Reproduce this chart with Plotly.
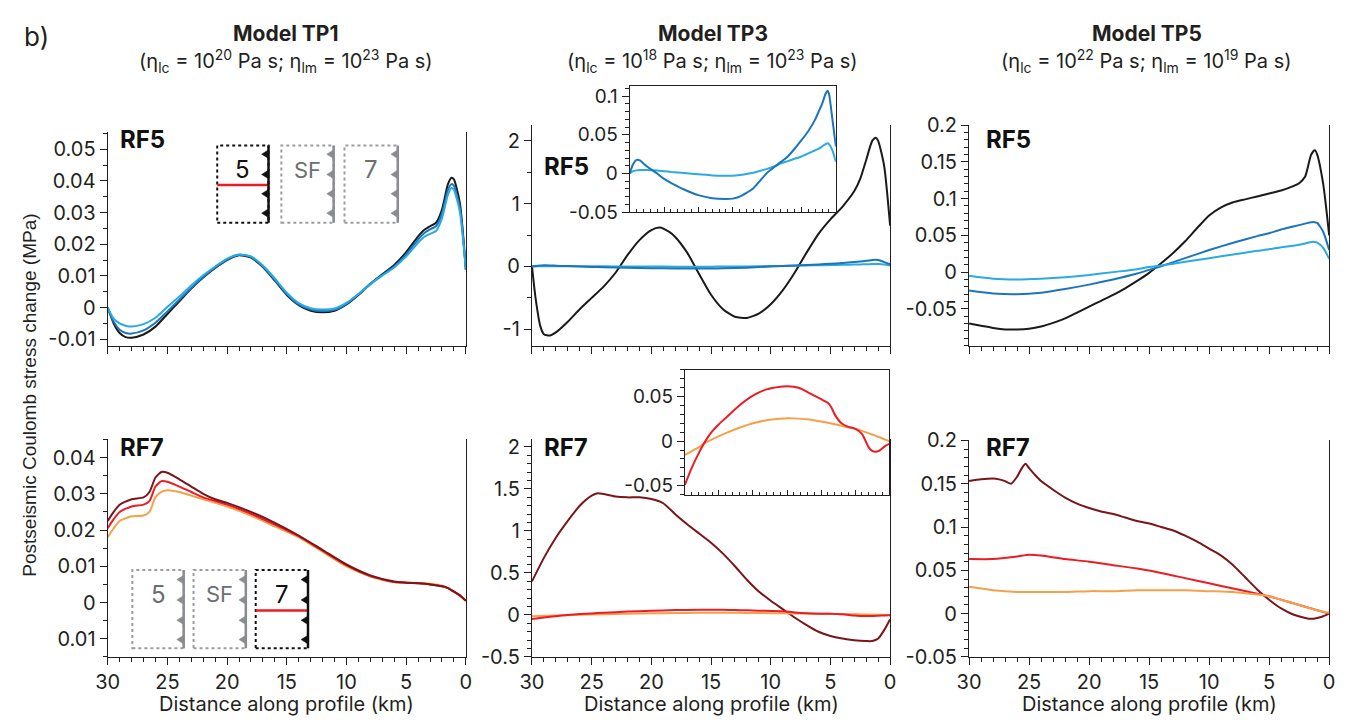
import plotly.graph_objects as go

W, H = 1349, 727
FONT = "Inter, Liberation Sans, Arial, Helvetica, sans-serif"
FONT_Y = "Liberation Sans, Arial, Helvetica, sans-serif"
INK = "#231f20"

# ---------------- colours ----------------
C_BLACK = "#1a1a1a"
C_BLUE = "#1b75bc"
C_LIGHT = "#29abe2"
C_DARKRED = "#7a1519"
C_RED = "#ec1c24"
C_ORANGE = "#f7a04a"

# ---------------- data ----------------
# Model TP1, RF5
tp1_rf5_km = [30, 29.5, 29, 28.5, 28, 27, 26, 25, 24, 23, 22, 21, 20, 19, 18, 17, 16, 15, 14, 13,
              12, 11, 10, 9, 8, 7, 6, 5, 4, 3.5, 3, 2.5, 2, 1.5, 1.2, 1, 0.5, 0]
tp1_rf5_black = [0, -0.005, -0.008, -0.0093, -0.0095, -0.0085, -0.006, -0.002, 0.002, 0.006, 0.0095,
                 0.0125, 0.015, 0.0165, 0.0158, 0.0128, 0.0085, 0.004, 0.0008, -0.001, -0.0015, -0.001,
                 0.001, 0.004, 0.0075, 0.0105, 0.0135, 0.0175, 0.0225, 0.0245, 0.0257, 0.0268, 0.031,
                 0.039, 0.041, 0.0405, 0.033, 0.012]
tp1_rf5_blue = [0, -0.0045, -0.007, -0.008, -0.0082, -0.0072, -0.0048, -0.0012, 0.0025, 0.0062, 0.0097,
                0.0127, 0.0152, 0.0167, 0.016, 0.013, 0.0088, 0.0043, 0.001, -0.0006, -0.0011, -0.0007,
                0.0012, 0.0042, 0.0075, 0.0103, 0.013, 0.0168, 0.0215, 0.0235, 0.0247, 0.0257, 0.0297,
                0.0372, 0.039, 0.0385, 0.0315, 0.012]
tp1_rf5_light = [0, -0.0035, -0.005, -0.0057, -0.006, -0.0052, -0.0032, 0.0002, 0.0035, 0.007, 0.0102,
                 0.013, 0.0155, 0.0168, 0.0162, 0.0133, 0.0092, 0.0047, 0.0014, -0.0002, -0.0006, -0.0003,
                 0.0015, 0.0043, 0.0074, 0.0101, 0.0127, 0.0162, 0.0205, 0.0223, 0.0233, 0.0242, 0.0282,
                 0.0357, 0.0378, 0.0372, 0.0302, 0.012]

# Model TP1, RF7
tp1_rf7_km = [30, 29.5, 29, 28, 27, 26.5, 26, 25.5, 25, 24, 23, 22, 21, 20, 18, 16, 14, 12, 10, 8,
              6, 5, 4, 3, 2, 1.5, 1, 0.5, 0]
tp1_rf7_darkred = [0.0225, 0.025, 0.027, 0.0285, 0.029, 0.0305, 0.0345, 0.036, 0.0358, 0.034,
                   0.032, 0.030, 0.0285, 0.0275, 0.025, 0.022, 0.0185, 0.0145, 0.0105, 0.0075,
                   0.0058, 0.0055, 0.0053, 0.005, 0.0045, 0.004, 0.003, 0.002, 0.0005]
tp1_rf7_red = [0.0205, 0.023, 0.025, 0.0265, 0.027, 0.028, 0.032, 0.0335, 0.0333, 0.032,
               0.0305, 0.029, 0.028, 0.027, 0.0245, 0.0215, 0.0183, 0.0143, 0.0103, 0.0073,
               0.0057, 0.0055, 0.0053, 0.005, 0.0045, 0.004, 0.003, 0.002, 0.0005]
tp1_rf7_orange = [0.018, 0.0205, 0.0225, 0.0238, 0.024, 0.025, 0.029, 0.0305, 0.031, 0.0305,
                  0.0295, 0.0285, 0.0275, 0.0265, 0.024, 0.021, 0.018, 0.014, 0.010, 0.0072,
                  0.0057, 0.0055, 0.0054, 0.0052, 0.0047, 0.004, 0.003, 0.002, 0.0005]

# Model TP3, RF5
tp3_rf5_km = [30, 29.7, 29.3, 29, 28.5, 28, 27, 26, 25, 24, 23, 22, 21, 20, 19.3, 18.5, 18, 17, 16,
              15, 14, 13, 12, 11, 10, 9, 8, 7, 6, 5, 4, 3, 2.5, 2, 1.5, 1.2, 1, 0.5, 0]
tp3_rf5_black = [0, -0.5, -0.95, -1.08, -1.1, -1.05, -0.88, -0.68, -0.5, -0.32, -0.1, 0.18, 0.42,
                 0.58, 0.62, 0.55, 0.47, 0.22, -0.12, -0.45, -0.68, -0.8, -0.82, -0.75, -0.6, -0.38,
                 -0.1, 0.22, 0.52, 0.75, 0.95, 1.2, 1.4, 1.7, 2.0, 2.05, 2.0, 1.6, 0.65]
tp3_rf5_blue_km = [30, 29.5, 29, 28.5, 28, 27, 26, 25, 24, 22, 20, 18, 16, 15, 14, 12, 10, 9, 8, 7,
                   6, 5, 4, 3, 2.5, 2, 1.5, 1.2, 1, 0.5, 0]
tp3_rf5_blue = [0, 0.012, 0.0175, 0.017, 0.013, 0.006, 0.0, -0.007, -0.012, -0.021, -0.028, -0.032,
                -0.033, -0.0325, -0.03, -0.019, 0.001, 0.008, 0.015, 0.022, 0.032, 0.043, 0.055, 0.07,
                0.08, 0.09, 0.103, 0.107, 0.103, 0.07, 0.035]
tp3_rf5_light = [0, 0.003, 0.004, 0.0045, 0.0045, 0.0042, 0.004, 0.003, 0.002, 0.0005, -0.001, -0.0025,
                 -0.003, -0.003, -0.002, 0.001, 0.006, 0.009, 0.013, 0.016, 0.019, 0.022, 0.026, 0.03,
                 0.032, 0.035, 0.038, 0.039, 0.038, 0.03, 0.015]

# Model TP3, RF7
tp3_rf7_km = [30, 29, 28, 27, 26, 25, 24.5, 24, 23, 22, 21, 20, 19, 18, 17, 16, 15, 14, 13, 12, 11,
              10, 9, 8, 7, 6, 5, 4, 3, 2, 1.5, 1, 0.5, 0]
tp3_rf7_darkred = [0.4, 0.68, 0.92, 1.12, 1.3, 1.42, 1.45, 1.44, 1.41, 1.4, 1.4, 1.38, 1.33, 1.2,
                   1.08, 0.97, 0.86, 0.73, 0.58, 0.42, 0.28, 0.17, 0.07, -0.03, -0.12, -0.2, -0.25,
                   -0.28, -0.3, -0.31, -0.31, -0.28, -0.18, -0.05]
tp3_rf7_red_km = [30, 29, 28, 27, 26, 25, 24, 22, 20, 18, 16, 15, 14, 13, 12, 11, 10, 9, 8.5, 8, 7,
                  6, 5, 4, 3, 2.5, 2, 1.5, 1, 0.5, 0]
tp3_rf7_red = [-0.049, -0.03, -0.014, 0.0, 0.011, 0.019, 0.026, 0.04, 0.051, 0.058, 0.061, 0.0615,
               0.061, 0.059, 0.055, 0.051, 0.047, 0.043, 0.038, 0.03, 0.02, 0.016, 0.014, 0.008,
               -0.007, -0.011, -0.012, -0.011, -0.008, -0.005, -0.003]
tp3_rf7_orange_km = [30, 28, 27, 26, 24, 22, 20, 18, 16, 15, 14, 12, 10, 8, 6, 4.6, 4, 2, 0]
tp3_rf7_orange = [-0.0155, -0.007, -0.002, 0.002, 0.009, 0.015, 0.02, 0.0235, 0.0252, 0.0256, 0.0255,
                  0.0245, 0.022, 0.019, 0.0155, 0.013, 0.0115, 0.006, 0.0]

# Model TP5, RF5
tp5_rf5_km = [30, 29, 28, 27, 26, 25, 24, 23, 22, 21, 20, 19, 18, 17, 16, 15, 14, 13, 12, 11, 10, 9,
              8, 7, 6, 5, 4, 3, 2.5, 2, 1.5, 1.2, 1, 0.5, 0]
tp5_rf5_black = [-0.07, -0.073, -0.076, -0.078, -0.078, -0.077, -0.074, -0.069, -0.063, -0.055,
                 -0.047, -0.039, -0.031, -0.022, -0.012, -0.001, 0.012, 0.026, 0.042, 0.06, 0.077,
                 0.088, 0.095, 0.099, 0.103, 0.107, 0.111, 0.117, 0.121, 0.13, 0.16, 0.166, 0.16,
                 0.12, 0.05]
tp5_rf5_blue_km = [30, 28, 26, 24, 22, 20, 18, 16, 15, 14, 12, 10, 8, 6, 5, 4, 3, 2, 1.5, 1.2, 1, 0.5, 0]
tp5_rf5_blue = [-0.025, -0.029, -0.03, -0.028, -0.023, -0.017, -0.01, -0.002, 0.003, 0.008, 0.019,
                0.03, 0.04, 0.049, 0.053, 0.058, 0.062, 0.066, 0.068, 0.068, 0.067, 0.055, 0.03]
tp5_rf5_light = [-0.005, -0.009, -0.01, -0.009, -0.007, -0.004, 0.0, 0.004, 0.007, 0.009, 0.014,
                 0.019, 0.024, 0.029, 0.031, 0.034, 0.036, 0.039, 0.041, 0.041, 0.04, 0.033, 0.018]

# Model TP5, RF7
tp5_rf7_km = [30, 29, 28, 27.5, 27, 26.5, 26, 25.6, 25.3, 25, 24.5, 24, 23, 22, 21, 20, 19, 18, 17,
              16, 15, 14, 13, 12, 11, 10, 9, 8, 7, 6, 5, 4, 3, 2, 1.5, 1, 0.5, 0]
tp5_rf7_darkred = [0.153, 0.155, 0.156, 0.155, 0.153, 0.15, 0.158, 0.168, 0.173, 0.168, 0.16, 0.153,
                   0.143, 0.134, 0.127, 0.122, 0.118, 0.115, 0.111, 0.107, 0.104, 0.1, 0.096, 0.09,
                   0.083, 0.075, 0.067, 0.056, 0.042, 0.028, 0.016, 0.006, -0.001, -0.005, -0.006,
                   -0.005, -0.003, 0.0]
tp5_rf7_other_km = [30, 28, 26, 25, 24, 22, 20, 18, 16, 14, 12, 10, 8, 6, 5, 4, 3, 2, 1, 0]
tp5_rf7_red = [0.063, 0.063, 0.066, 0.068, 0.067, 0.063, 0.06, 0.056, 0.052, 0.047, 0.041, 0.035,
               0.029, 0.023, 0.02, 0.016, 0.012, 0.008, 0.004, 0.0]
tp5_rf7_orange = [0.031, 0.027, 0.025, 0.025, 0.025, 0.025, 0.026, 0.026, 0.027, 0.027, 0.027, 0.026,
                  0.025, 0.022, 0.02, 0.016, 0.012, 0.008, 0.004, 0.001]

# ---------------- ticks ----------------
x_ticks = [30, 25, 20, 15, 10, 5, 0]
x_ticktext = ["30", "25", "20", "15", "10", "5", "0"]
tp1_rf5_yticks = [-0.01, 0, 0.01, 0.02, 0.03, 0.04, 0.05]
tp1_rf5_ytext = ["-0.01", "0", "0.01", "0.02", "0.03", "0.04", "0.05"]
tp1_rf7_yticks = [-0.01, 0, 0.01, 0.02, 0.03, 0.04]
tp1_rf7_ytext = ["0.01", "0", "0.01", "0.02", "0.03", "0.04"]
tp3_rf5_yticks = [-1, 0, 1, 2]
tp3_rf5_ytext = ["-1", "0", "1", "2"]
tp3_rf7_yticks = [-0.5, 0, 0.5, 1, 1.5, 2]
tp3_rf7_ytext = ["-0.5", "0", "0.5", "1", "1.5", "2"]
tp5_rf5_yticks = [-0.05, 0, 0.05, 0.1, 0.15, 0.2]
tp5_rf5_ytext = ["-0.05", "0", "0.05", "0.1", "0.15", "0.2"]
tp5_rf7_yticks = [-0.05, 0, 0.05, 0.1, 0.15, 0.2]
tp5_rf7_ytext = ["-0.05", "0", "0.05", "0.1", "0.15", "0.2"]
inset5_yticks = [-0.05, 0, 0.05, 0.1]
inset5_ytext = ["-0.05", "0", "0.05", "0.1"]
inset7_yticks = [-0.05, 0, 0.05]
inset7_ytext = ["-0.05", "0", "0.05"]

titles = ["Model TP1", "Model TP3", "Model TP5"]
subtitles = [
    "(η<sub>lc</sub> = 10<sup>20</sup> Pa s; η<sub>lm</sub> = 10<sup>23</sup> Pa s)",
    "(η<sub>lc</sub> = 10<sup>18</sup> Pa s; η<sub>lm</sub> = 10<sup>23</sup> Pa s)",
    "(η<sub>lc</sub> = 10<sup>22</sup> Pa s; η<sub>lm</sub> = 10<sup>19</sup> Pa s)",
]


def X(px):
    return px / W


def Y(py):
    return 1 - py / H


fig = go.Figure()


def add(xs, ys, color, ax, width=2):
    fig.add_trace(go.Scatter(x=xs, y=ys, mode="lines", xaxis="x" + ax, yaxis="y" + ax,
                             line=dict(color=color, width=width, shape="spline", smoothing=0.6),
                             showlegend=False, hoverinfo="skip"))


# TP1
add(tp1_rf5_km, tp1_rf5_black, C_BLACK, "")
add(tp1_rf5_km, tp1_rf5_blue, C_BLUE, "")
add(tp1_rf5_km, tp1_rf5_light, C_LIGHT, "")
add(tp1_rf7_km, tp1_rf7_orange, C_ORANGE, "4")
add(tp1_rf7_km, tp1_rf7_red, C_RED, "4")
add(tp1_rf7_km, tp1_rf7_darkred, C_DARKRED, "4")
# TP3
add(tp3_rf5_km, tp3_rf5_black, C_BLACK, "2")
add(tp3_rf5_blue_km, tp3_rf5_light, C_LIGHT, "2")
add(tp3_rf5_blue_km, tp3_rf5_blue, C_BLUE, "2")
add(tp3_rf7_km, tp3_rf7_darkred, C_DARKRED, "5")
add(tp3_rf7_orange_km, tp3_rf7_orange, C_ORANGE, "5")
add(tp3_rf7_red_km, tp3_rf7_red, C_RED, "5")
# TP5
add(tp5_rf5_km, tp5_rf5_black, C_BLACK, "3")
add(tp5_rf5_blue_km, tp5_rf5_blue, C_BLUE, "3")
add(tp5_rf5_blue_km, tp5_rf5_light, C_LIGHT, "3")
add(tp5_rf7_km, tp5_rf7_darkred, C_DARKRED, "6")
add(tp5_rf7_other_km, tp5_rf7_red, C_RED, "6")
add(tp5_rf7_other_km, tp5_rf7_orange, C_ORANGE, "6")
# insets (TP3)
add(tp3_rf5_blue_km, tp3_rf5_light, C_LIGHT, "7")
add(tp3_rf5_blue_km, tp3_rf5_blue, C_BLUE, "7")
add(tp3_rf7_orange_km, tp3_rf7_orange, C_ORANGE, "8")
add(tp3_rf7_red_km, tp3_rf7_red, C_RED, "8")

TICKFONT = dict(family=FONT, size=20, color=INK)


def xax(px0, px1, anchor, labels, inset=False):
    d = dict(domain=[X(px0), X(px1)], range=[30, 0], anchor=anchor,
             tickmode="array", tickvals=x_ticks, ticktext=x_ticktext,
             showticklabels=labels, ticks="inside" if inset else "outside",
             ticklen=5 if inset else 7, tickwidth=1, tickcolor=INK,
             showline=True, linecolor=INK, linewidth=1.2, showgrid=False, zeroline=False,
             mirror=inset, tickfont=TICKFONT, fixedrange=True,
             minor=dict(dtick=1, tick0=0, ticks="inside" if inset else "outside",
                        ticklen=3 if inset else 4, tickwidth=1, tickcolor=INK, showgrid=False))
    return d


def yax(py_top, py_bot, rng, anchor, tv, tt, minor_dt, fsize=20):
    return dict(domain=[Y(py_bot), Y(py_top)], range=rng, anchor=anchor,
                tickmode="array", tickvals=tv, ticktext=tt, ticks="outside", ticklen=7,
                tickwidth=1, tickcolor=INK, showline=True, linecolor=INK, linewidth=1.2,
                showgrid=False, zeroline=False, mirror=True, fixedrange=True,
                tickfont=dict(family=FONT, size=fsize, color=INK),
                minor=dict(dtick=minor_dt, tick0=0, ticks="outside", ticklen=4, tickwidth=1,
                           tickcolor=INK, showgrid=False))


cols = [(97, 460), (527, 890), (970, 1335)]

fig.update_layout(
    width=W, height=H, margin=dict(l=0, r=0, t=0, b=0),
    paper_bgcolor="white", plot_bgcolor="white",
    font=dict(family=FONT, color=INK),
    xaxis=xax(*cols[0], "y", False),
    xaxis2=xax(*cols[1], "y2", False),
    xaxis3=xax(*cols[2], "y3", False),
    xaxis4=xax(*cols[0], "y4", True),
    xaxis5=xax(*cols[1], "y5", True),
    xaxis6=xax(*cols[2], "y6", True),
    xaxis7=xax(626, 835, "y7", False, inset=True),
    xaxis8=xax(682, 889, "y8", False, inset=True),
    yaxis=yax(124, 345, [-0.012, 0.0555], "x", tp1_rf5_yticks, tp1_rf5_ytext, 0.005),
    yaxis2=yax(117, 345, [-1.26, 2.25], "x2", tp3_rf5_yticks, tp3_rf5_ytext, 0.5),
    yaxis3=yax(117, 345, [-0.1, 0.2], "x3", tp5_rf5_yticks, tp5_rf5_ytext, 0.01),
    yaxis4=yax(442, 667, [-0.015, 0.045], "x4", tp1_rf7_yticks, tp1_rf7_ytext, 0.005),
    yaxis5=yax(442, 667, [-0.5, 2.09], "x5", tp3_rf7_yticks, tp3_rf7_ytext, 0.1),
    yaxis6=yax(443, 667, [-0.05, 0.2], "x6", tp5_rf7_yticks, tp5_rf7_ytext, 0.01),
    yaxis7=yax(77, 207, [-0.05, 0.1125], "x7", inset5_yticks, inset5_ytext, 0.01, fsize=19),
    yaxis8=yax(370, 500, [-0.061, 0.080], "x8", inset7_yticks, inset7_ytext, 0.01, fsize=19),
)

ann = []


def note(px, py, text, size, color=INK, xanchor="center", angle=0, family=FONT):
    ann.append(dict(x=X(px), y=Y(py), xref="paper", yref="paper", text=text, showarrow=False,
                    xanchor=xanchor, yanchor="middle", textangle=angle,
                    font=dict(family=family, size=size, color=color)))


# panel label
note(10, 25, "b)", 26, xanchor="left")
centers = [278, 710, 1150]
for c, t, s in zip(centers, titles, subtitles):
    note(c, 22, "<b>" + t + "</b>", 21)
    note(c, 51, s, 20)
# RF labels
for (px, py, t) in [(107, 132, "RF5"), (537, 160, "RF5"), (985, 132, "RF5"),
                    (107, 450, "RF7"), (537, 450, "RF7"), (985, 450, "RF7")]:
    note(px, py, "<b>" + t + "</b>", 24, color="#111111", xanchor="left")
# x titles
for (a, b) in cols:
    note((a + b) / 2, 716, "Distance along profile (km)", 20)
# y title
note(18, 396, "Postseismic Coulomb stress change (MPa)", 19, angle=-90, family=FONT_Y)

# ---------------- fault schematics (TP1) ----------------
shapes = []
GRAY_BOX = "#9a9c9f"
GRAY_FAULT = "#8a8c8f"
GRAY_TXT = "#6d6e71"


def schematic(x0, x1, y0, y1, label, active, tri_ys, red_y=None):
    boxc = "#111111" if active else GRAY_BOX
    faultc = "#111111" if active else GRAY_FAULT
    shapes.append(dict(type="rect", xref="paper", yref="paper", x0=X(x0), x1=X(x1), y0=Y(y1), y1=Y(y0),
                       line=dict(color=boxc, width=2, dash="dot"), fillcolor="white", layer="above"))
    if red_y is not None:
        shapes.append(dict(type="line", xref="paper", yref="paper", x0=X(x0), x1=X(x1), y0=Y(red_y),
                           y1=Y(red_y), line=dict(color=C_RED, width=2.5), layer="above"))
    shapes.append(dict(type="line", xref="paper", yref="paper", x0=X(x1), x1=X(x1), y0=Y(y0),
                       y1=Y(y1), line=dict(color=faultc, width=2.5), layer="above"))
    for ty in tri_ys:
        path = "M %f,%f L %f,%f L %f,%f Z" % (X(x1), Y(ty - 4.5), X(x1 - 7), Y(ty), X(x1), Y(ty + 4.5))
        shapes.append(dict(type="path", xref="paper", yref="paper", path=path, fillcolor=faultc,
                           line=dict(color=faultc, width=0.5), layer="above"))
    note((x0 + x1) / 2, y0 + 25, label, 24 if label != "SF" else 22,
         color="#111111" if active else GRAY_TXT)


top_tris = [147, 168, 188, 208]
schematic(208, 260, 138, 218, "5", True, top_tris, red_y=179)
schematic(273, 326, 138, 218, "SF", False, top_tris)
schematic(337, 391, 138, 218, "7", False, top_tris)
bot_tris = [587, 608, 629, 649]
schematic(122, 174, 577, 658, "5", False, bot_tris)
schematic(184, 237, 577, 658, "SF", False, bot_tris)
schematic(247, 300, 577, 658, "7", True, bot_tris, red_y=619)

fig.update_layout(annotations=ann, shapes=shapes)
fig.write_html("out.html")
